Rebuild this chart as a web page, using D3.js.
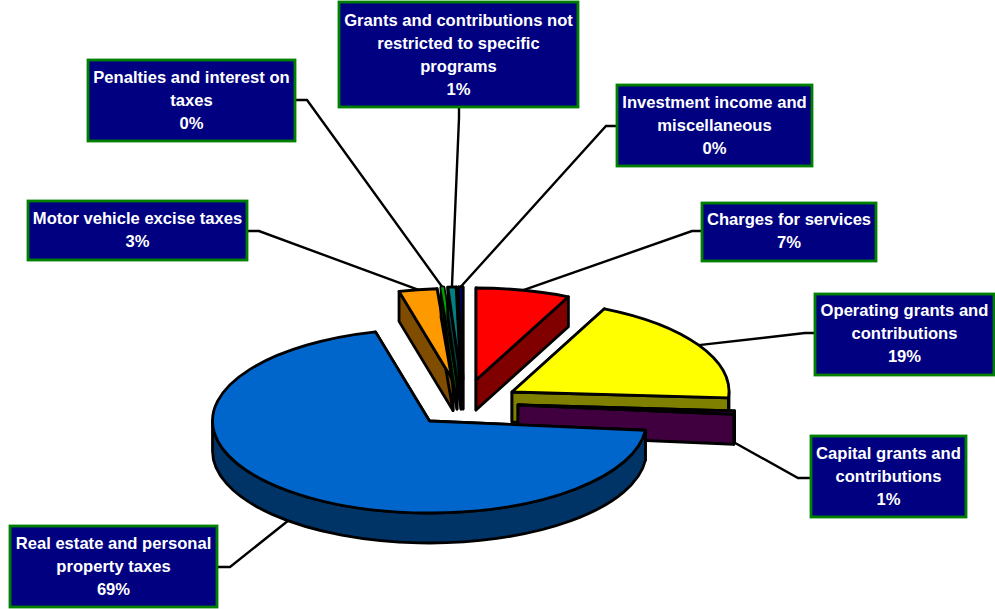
<!DOCTYPE html>
<html>
<head>
<meta charset="utf-8">
<style>
  html, body { margin: 0; padding: 0; background: #fff; }
  svg { display: block; }
  text { font-family: "Liberation Sans", Arial, sans-serif; font-weight: bold; font-size: 16.6px; fill: #fff; }
</style>
</head>
<body>
<svg id="chart" width="995" height="609"></svg>
<script src="https://cdn.jsdelivr.net/npm/d3@7/dist/d3.min.js"></script>
<script>
// Revenue shares, clockwise from twelve o'clock.
const categories = [
  "Charges for services",
  "Operating grants and contributions",
  "Capital grants and contributions",
  "Real estate and personal property taxes",
  "Motor vehicle excise taxes",
  "Penalties and interest on taxes",
  "Grants and contributions not restricted to specific programs",
  "Investment income and miscellaneous"
];
const shares = [7, 19, 0.6, 69.4, 2.83, 0.2, 0.61, 0.36];
const shareLabels = ["7%", "19%", "1%", "69%", "3%", "0%", "1%", "0%"];
const labelLines = [
  ["Charges for services"],
  ["Operating grants and", "contributions"],
  ["Capital grants and", "contributions"],
  ["Real estate and personal", "property taxes"],
  ["Motor vehicle excise taxes"],
  ["Penalties and interest on", "taxes"],
  ["Grants and contributions not", "restricted to specific", "programs"],
  ["Investment income and", "miscellaneous"]
];

// Slice colours: top face and darker extruded wall.
const topColors  = ["#ff0000", "#ffff00", "#660066", "#0066cc", "#ff9900", "#00a000", "#008080", "#000080"];
const wallColors = ["#800000", "#808000", "#400040", "#003366", "#804d00", "#005000", "#004040", "#000040"];

// Exploded slice apexes in pixels.
const apexes = [[476, 380], [512, 392], [518, 405], [429.5, 421], [453, 380.5], [457, 379], [461, 379], [463, 379]];
// Callout boxes [x, y, w, h], the baseline centre of each first text line, and leader routing.
const boxes = [
  [702, 203, 174, 58], [815, 294, 179, 81], [811, 436, 155, 81], [10, 526, 207, 81],
  [28, 201, 219, 59], [88, 60, 207, 81], [339, 2, 239, 105], [617, 85, 195, 81]
];
const firstLineY = [219, 310, 453, 543, 218, 77, 20, 102];
const elbows = [[692, 231], [805, 333], [798, 478], [230, 567], [259, 231], [307, 100], [459, 118], [606, 126]];
const boxExits = [[702, 231], [815, 333], [811, 478], [217, 567], [247, 231], [295, 100], [459, 107], [617, 126]];

// Ellipse radii and extrusion depth of the tilted pie.
const rx = 217, ry = 92, depth = 30;
const halfPi = Math.PI / 2;

const svg = d3.select("#chart");
const pie = d3.pie().sort(null).startAngle(0).endAngle(2 * Math.PI);
const slices = pie(shares).map((d, i) => ({ ...d, i, apex: apexes[i] }));

const rim = (s, t, dy = 0) => [s.apex[0] + rx * Math.sin(t), s.apex[1] - ry * Math.cos(t) + dy];

function topFace(s) {
  const a = rim(s, s.startAngle), b = rim(s, s.endAngle);
  const large = s.endAngle - s.startAngle > Math.PI ? 1 : 0;
  return `M${s.apex}L${a}A${rx},${ry} 0 ${large} 1 ${b}Z`;
}
function cutFace(s, t) {
  const p = rim(s, t), q = rim(s, t, depth);
  return `M${s.apex}L${p}L${q}L${s.apex[0]},${s.apex[1] + depth}Z`;
}
// The rim wall only shows where the arc faces the viewer.
function rimWall(s) {
  const a0 = Math.max(s.startAngle, halfPi), a1 = Math.min(s.endAngle, 3 * halfPi);
  if (a1 <= a0) return null;
  const large = a1 - a0 > Math.PI ? 1 : 0;
  return `M${rim(s, a0)}A${rx},${ry} 0 ${large} 1 ${rim(s, a1)}` +
         `L${rim(s, a1, depth)}A${rx},${ry} 0 ${large} 0 ${rim(s, a0, depth)}Z`;
}
function leaderEnd(s) {
  const mid = (s.startAngle + s.endAngle) / 2;
  return rim(s, mid, Math.cos(mid) < 0 ? depth : 0);
}

// Leader lines sit under the slices and the boxes.
svg.append("g").selectAll("polyline").data(slices).join("polyline")
  .attr("points", s => [boxExits[s.i], elbows[s.i], leaderEnd(s)].join(" "))
  .attr("fill", "none").attr("stroke", "#000").attr("stroke-width", 2.4);

// Painter's order: rear slivers first, the big front slice last.
const paintOrder = [0, 4, 5, 6, 7, 1, 2, 3];
const pieGroup = svg.append("g").attr("stroke", "#000").attr("stroke-width", 2.8).attr("stroke-linejoin", "round");
paintOrder.forEach(i => {
  const s = slices[i];
  const g = pieGroup.append("g");
  [cutFace(s, s.startAngle), cutFace(s, s.endAngle), rimWall(s)].filter(Boolean).forEach(d => {
    g.append("path").attr("d", d).attr("fill", wallColors[i]);
  });
  g.append("path").attr("d", topFace(s)).attr("fill", topColors[i])
    .style("paint-order", shares[i] < 0.25 ? "stroke" : "normal");
});

// Callout boxes with centred white text.
const lineHeight = 23;
const callouts = svg.append("g").selectAll("g").data(slices).join("g");
callouts.append("rect")
  .attr("x", s => boxes[s.i][0]).attr("y", s => boxes[s.i][1])
  .attr("width", s => boxes[s.i][2]).attr("height", s => boxes[s.i][3])
  .attr("fill", "#000080").attr("stroke", "#008000").attr("stroke-width", 2.8);
callouts.each(function (s) {
  const lines = [...labelLines[s.i], shareLabels[s.i]];
  const [x, , w] = boxes[s.i];
  d3.select(this).selectAll("text").data(lines).join("text")
    .attr("x", x + w / 2)
    .attr("y", (_, k) => firstLineY[s.i] + k * lineHeight)
    .attr("dy", "0.35em")
    .attr("text-anchor", "middle")
    .text(d => d);
});
</script>
</body>
</html>
